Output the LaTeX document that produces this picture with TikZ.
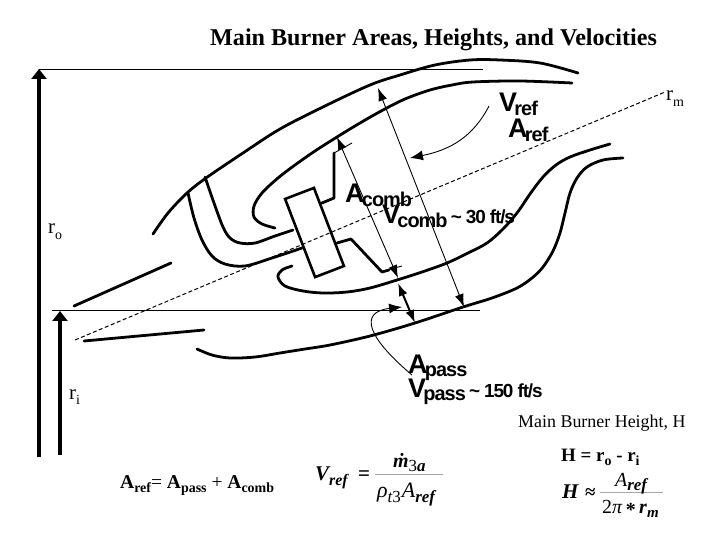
\documentclass[tikz,border=0pt]{standalone}
\usepackage{fontspec}
\setmainfont{Liberation Serif}
\setsansfont{Liberation Sans}
\usetikzlibrary{arrows.meta}
\newcommand{\sublbl}[2]{\fontsize{27}{27}\selectfont\bfseries #1\kern-.1em\raisebox{-.12em}{\fontsize{20}{20}\selectfont\addfontfeatures{LetterSpace=-5}#2}}
\newcommand{\tailtxt}[1]{\fontsize{19}{19}\selectfont\bfseries\addfontfeatures{LetterSpace=-6}\,#1}
\newcommand{\lowtxt}[2]{\raisebox{-.25em}{\fontsize{#1}{#1}\selectfont #2}}
\tikzset{
  x=1bp,y=-1bp,
  liner/.style={line width=2.8pt,line cap=round,line join=round},
  thin line/.style={line width=0.9pt},
  both/.style={line width=0.9pt,{Latex[length=13pt,width=9pt]}-{Latex[length=13pt,width=9pt]}},
  one/.style={line width=0.9pt,-{Latex[length=13pt,width=10pt]}},
  lab/.style={inner sep=0pt,anchor=base west,font=\sffamily},
  ser/.style={inner sep=0pt,anchor=base west},
  fracrule/.style={line width=0.9pt,draw=black!35},
}
\begin{document}
\begin{tikzpicture}
\useasboundingbox (0,0) rectangle (720,540);
\fill[white] (0,0) rectangle (720,540);
\coordinate (tall0) at (39,457);
\coordinate (tall1) at (39,69);
\coordinate (topR) at (483,69);
\coordinate (small0) at (60,455);
\coordinate (small1) at (60,311);
\coordinate (midL) at (52,310.5);
\coordinate (midR) at (480,310.5);
\coordinate (clA) at (75,340);
\coordinate (clB) at (665,92);
\draw[line width=4pt,-{Triangle[length=10pt,width=15pt]}] (tall0) -- (tall1);
\draw[line width=3.5pt,-{Triangle[length=10pt,width=15pt]}] (small0) -- (small1);
\draw[thin line] (tall1) -- (topR);
\draw[thin line] (midL) -- (midR);
\draw[line width=1pt,dash pattern=on 4pt off 2.5pt] (clA) -- (clB);
\draw[liner] plot[smooth,tension=.55] coordinates {(153,234) (168,213) (187,193) (206,178) (243,153) (280,129) (325,106) (370,85) (400,75) (435,65) (470,60) (500,60) (540,63) (578,73)};
\draw[liner] plot[smooth,tension=.55] coordinates {(275,228) (262,224) (254,217) (254,206) (262,193) (278,178) (295,165) (315,151) (337,137) (360,123) (383,110) (405,99) (430,90) (452,85) (473,82) (520,81) (572,83)};
\draw[liner] plot[smooth,tension=.55] coordinates {(205,177) (214,203) (223,227) (230,238) (240,243) (255,243) (275,236) (293,230)};
\draw[liner] plot[smooth,tension=.55] coordinates {(188,193) (194,218) (202,240) (212,256) (225,264) (245,266) (272,258) (302,248)};
\node[draw,line width=2.6pt,minimum width=31pt,minimum height=84pt,rotate=21,inner sep=0pt] (dome) at (314.5,232.5) {};
\draw[liner] (322,203) -- (334,198) -- (334,153);
\draw[thin line] (334,153) -- (352,143);
\draw[liner] (337,243) -- (351,239) -- (382,272) -- (389,270);
\draw[thin line] (387,270) -- (402,266);
\draw[liner] plot[smooth,tension=.55] coordinates {(292,266) (282,270) (278,277) (285,286) (303,291) (323,293) (347,292) (370,288) (397,280) (422,272) (447,263) (468,253) (487,243) (503,229) (517,213) (530,194) (543,177) (556,165) (570,157) (590,150) (610,144)};
\draw[liner] plot[smooth,tension=.55] coordinates {(197,349) (212,355) (230,358) (255,357) (280,353) (305,349) (330,345) (370,336) (415,323) (463,307) (492,298) (517,288) (532,278) (543,267) (553,251) (560,233) (565,213) (570,193) (577,178) (587,167) (603,160) (623,158)};
\draw[liner] (74,306) -- (171,263);
\draw[liner] (84,341) -- (204,330);
\coordinate (a1) at (378,88); \coordinate (a2) at (464,307);
\coordinate (b1) at (337,137); \coordinate (b2) at (398,278);
\coordinate (c1) at (398,283); \coordinate (c2) at (415,323);
\draw[both] (a1) -- (a2);
\draw[both] (b1) -- (b2);
\draw[both,line width=2pt] (c1) -- (c2);
\coordinate (d0) at (489,106); \coordinate (d3) at (410,158);
\draw[one] (d0) .. controls (473,137) and (450,150) .. (d3);
\coordinate (e0) at (412,375); \coordinate (e3) at (402,307);
\draw[one] (e0) .. controls (368,338) and (358,312) .. (e3);
% labels
\node[ser,font=\fontsize{24.2}{24.2}\selectfont\bfseries] (title) at (210,46) {Main Burner Areas, Heights, and Velocities};
\node[ser,font=\fontsize{21}{21}\selectfont] (ro) at (48,234) {r\lowtxt{14}{o}};
\node[ser,font=\fontsize{21}{21}\selectfont] (ri) at (69,399) {r\lowtxt{14}{i}};
\node[ser,font=\fontsize{21}{21}\selectfont] (rm) at (666,101) {r\lowtxt{14}{m}};
\node[lab] (vref) at (499,112) {\sublbl{V}{ref}};
\node[lab] (aref) at (508,138) {\sublbl{A}{ref}};
\node[lab] (acomb) at (345,203) {\sublbl{A}{comb}};
\node[lab] (vcomb) at (382,224) {\sublbl{V}{comb}\tailtxt{\textasciitilde\ 30 ft/s}};
\node[lab] (apass) at (408,373) {\sublbl{A}{pass}};
\node[lab] (vpass) at (408,397) {\sublbl{V}{pass}\tailtxt{\textasciitilde\ 150 ft/s}};
\node[ser,font=\fontsize{18}{18}\selectfont] (mbh) at (518,427) {Main Burner Height, H};
\node[ser,font=\fontsize{19}{19}\selectfont\bfseries] (heq) at (561,461) {H = r\lowtxt{14}{o} - r\lowtxt{14}{i}};
\node[ser,font=\fontsize{19.6}{19.6}\selectfont] (aeq) at (120,488) {\textbf{A\lowtxt{14}{ref}}= \textbf{A\lowtxt{14}{pass}} + \textbf{A\lowtxt{14}{comb}}};
% formulas
\node[ser,font=\fontsize{21}{21}\selectfont\bfseries\itshape] (vf) at (315,480) {V\lowtxt{16}{ref}};
\node[ser,font=\fontsize{21}{21}\selectfont\bfseries] (veq) at (358,480) {=};
\coordinate (vr0) at (375,474); \coordinate (vr1) at (443,474);
\draw[fracrule] (vr0) -- (vr1);
\node[ser,font=\fontsize{20}{20}\selectfont\bfseries\itshape] (vn) at (393,467) {ṁ\lowtxt{17}{\normalfont\mdseries 3}\lowtxt{17}{a}};
\node[ser,font=\fontsize{22}{22}\selectfont\itshape] (vd) at (377,497) {ρ\lowtxt{17}{t}\lowtxt{17}{\normalfont 3}\kern1pt\textit{A}\lowtxt{17}{\bfseries ref}};
\node[ser,font=\fontsize{21}{21}\selectfont\bfseries\itshape] (hf) at (562,498) {H};
\node[ser,font=\fontsize{19}{19}\selectfont\bfseries] (happ) at (585,498) {≈};
\coordinate (hr0) at (600,492); \coordinate (hr1) at (663,492);
\draw[fracrule] (hr0) -- (hr1);
\node[ser,font=\fontsize{20}{20}\selectfont\itshape] (hn) at (615,486) {\textit{A}\lowtxt{17}{\bfseries ref}};
\node[ser,font=\fontsize{20}{20}\selectfont] (hd) at (602,513) {2\textit{π}\,\raisebox{-.2em}{\textbf{*}}\,\textbf{\textit{r}}\lowtxt{15}{\bfseries\itshape m}};
\end{tikzpicture}
\end{document}
